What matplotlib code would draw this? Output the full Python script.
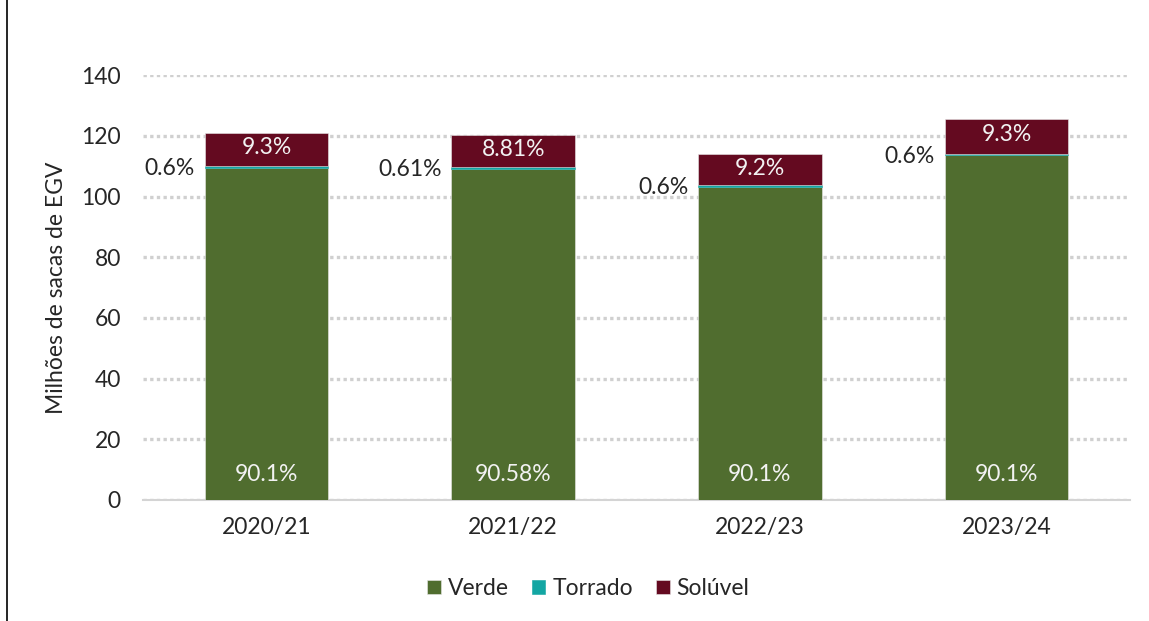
import matplotlib.pyplot as plt
from matplotlib.lines import Line2D
import numpy as np

# exportação por forma (milhões de sacas de EGV)
safras = ["2020/21", "2021/22", "2022/23", "2023/24"]
verde = [109.3, 108.9, 103.1, 113.6]
torrado = [0.8, 0.7, 0.6, 0.3]
soluvel = [10.9, 10.6, 10.3, 11.7]

verde_pct = ["90.1%", "90.58%", "90.1%", "90.1%"]
torrado_pct = ["0.6%", "0.61%", "0.6%", "0.6%"]
soluvel_pct = ["9.3%", "8.81%", "9.2%", "9.3%"]

cor_verde = "#506D2F"
cor_torrado = "#13A6A3"
cor_soluvel = "#640A20"

plt.rcParams["font.family"] = ["Lato", "DejaVu Sans"]
fs = 16.5

fig = plt.figure(figsize=(11.49, 6.21), dpi=100)
ax = fig.add_axes([0.1245, 0.195, 0.859, 0.684])

x = np.arange(len(safras))
w = 0.5
base = np.zeros(len(safras))

ax.bar(x, verde, w, bottom=base, color=cor_verde, edgecolor="#e8e8e8", linewidth=0.4,
       label="Verde", zorder=3)
base += verde
ax.bar(x, torrado, w, bottom=base, color=cor_torrado, edgecolor=cor_torrado, linewidth=0.4,
       label="Torrado", zorder=3)
torr_top = base + torrado
base += torrado
ax.bar(x, soluvel, w, bottom=base, color=cor_soluvel, edgecolor="#e8e8e8", linewidth=0.4,
       label="Solúvel", zorder=3)

# rótulos de percentagem
for i in range(len(safras)):
    ax.text(x[i], 8.5, verde_pct[i], ha="center", va="center", color="#f2f2f2",
            fontsize=fs, zorder=4)
    ax.text(x[i], base[i] + soluvel[i] * 0.55, soluvel_pct[i], ha="center", va="center",
            color="#f2f2f2", fontsize=fs, zorder=4)
    ax.text(x[i] - w / 2 - 0.04, torr_top[i] - 0.8, torrado_pct[i], ha="right", va="center",
            color="#262626", fontsize=fs, zorder=4)

ax.set_xlim(-0.5, len(safras) - 0.5)
ax.set_ylim(0, 140)
ax.set_yticks(np.arange(0, 141, 20))
ax.set_xticks(x)
ax.set_xticklabels(safras)
ax.tick_params(axis="both", length=0, labelsize=fs, colors="#262626")
ax.tick_params(axis="x", pad=12)
ax.tick_params(axis="y", pad=16)

ax.yaxis.grid(True, linestyle=(0, (1.0, 1.0)), color="#d0d0d0", linewidth=2.4, zorder=0)
ax.set_axisbelow(True)
for s in ["top", "right", "left"]:
    ax.spines[s].set_visible(False)
ax.spines["bottom"].set_color("#d4d4d4")
ax.spines["bottom"].set_linewidth(1.5)

ax.set_ylabel("Milhões de sacas de EGV", fontsize=fs, color="#262626", labelpad=10)

ax.legend(loc="upper center", bbox_to_anchor=(0.451, -0.135), ncol=3, frameon=False,
          fontsize=fs, handlelength=0.6, handleheight=0.6, handletextpad=0.3,
          columnspacing=1.0, labelcolor="#262626")

# borda esquerda da moldura
fig.add_artist(Line2D([0.0065, 0.0065], [0, 1], color="black", linewidth=1.2))

fig.savefig("out.png", dpi=100)
